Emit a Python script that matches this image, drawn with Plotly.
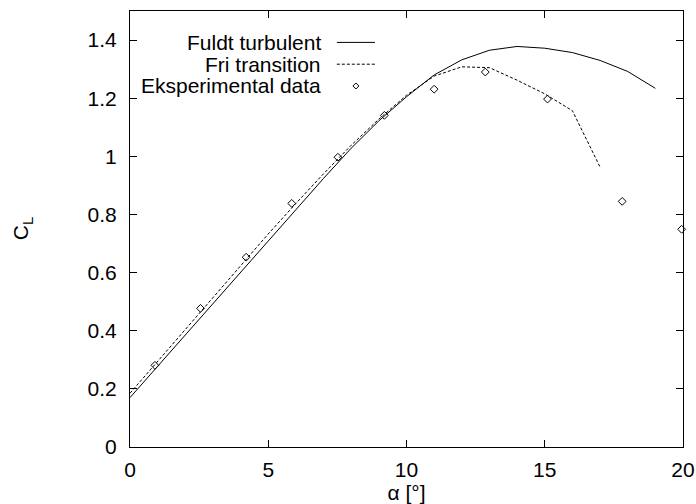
import plotly.graph_objects as go

# ---- data ----
alpha_turb = [0, 1, 2, 3, 4, 5, 6, 7, 8, 9, 10, 11, 12, 13, 14, 15, 16, 17, 18, 19]
cl_turb = [0.170, 0.278, 0.386, 0.494, 0.602, 0.710, 0.818, 0.924, 1.028, 1.122, 1.205,
           1.280, 1.332, 1.365, 1.378, 1.372, 1.357, 1.330, 1.292, 1.234]

alpha_fri = [0, 1, 2, 3, 4, 5, 6, 7, 8, 9, 10, 11, 12, 13, 14, 15, 16, 17]
cl_fri = [0.185, 0.295, 0.405, 0.515, 0.625, 0.733, 0.838, 0.940, 1.038, 1.128, 1.210,
          1.276, 1.308, 1.305, 1.262, 1.215, 1.157, 0.963]

alpha_exp = [0.9, 2.55, 4.2, 5.85, 7.52, 9.2, 11.0, 12.85, 15.1, 17.8, 19.95]
cl_exp = [0.281, 0.477, 0.653, 0.838, 0.997, 1.141, 1.231, 1.290, 1.197, 0.845, 0.749]

legend_labels = ["Fuldt turbulent", "Fri transition", "Eksperimental data"]
x_ticks = [0, 5, 10, 15, 20]
y_ticks = [0, 0.2, 0.4, 0.6, 0.8, 1.0, 1.2, 1.4]
y_ticktext = ["0", "0.2", "0.4", "0.6", "0.8", "1", "1.2", "1.4"]

FONT = "Liberation Sans, Arial, Helvetica, sans-serif"

fig = go.Figure()
fig.add_trace(go.Scatter(x=alpha_turb, y=cl_turb, mode="lines",
                         line=dict(color="black", width=1), showlegend=False))
fig.add_trace(go.Scatter(x=alpha_fri, y=cl_fri, mode="lines",
                         line=dict(color="black", width=1, dash="3px,2px"), showlegend=False))
fig.add_trace(go.Scatter(x=alpha_exp, y=cl_exp, mode="markers", cliponaxis=False,
                         marker=dict(symbol="diamond-open", size=6, color="black",
                                     line=dict(width=1, color="black")),
                         showlegend=False))

# manual legend (text right-aligned, sample to the right)
rows_y = [0.928, 0.878, 0.828]
text_x = 0.349
s0, s1 = 0.374, 0.443
for i, lab in enumerate(legend_labels):
    fig.add_annotation(x=text_x, y=rows_y[i], xref="paper", yref="paper", text=lab,
                       showarrow=False, xanchor="right", yanchor="middle",
                       font=dict(family=FONT, size=21, color="black"))
fig.add_shape(type="line", xref="paper", yref="paper", x0=s0, x1=s1, y0=rows_y[0], y1=rows_y[0],
              line=dict(color="black", width=1))
fig.add_shape(type="line", xref="paper", yref="paper", x0=s0, x1=s1, y0=rows_y[1], y1=rows_y[1],
              line=dict(color="black", width=1, dash="3px,2px"))
fig.add_shape(type="path", xref="paper", yref="paper", xsizemode="pixel", ysizemode="pixel",
              xanchor=(s0 + s1) / 2, yanchor=rows_y[2],
              path="M 0 3 L 3 0 L 0 -3 L -3 0 Z", line=dict(color="black", width=1))

# y-axis title, rotated (reads bottom to top)
fig.add_annotation(x=-0.195, y=0.5, xref="paper", yref="paper", text="C<sub>L</sub>",
                   showarrow=False, textangle=-90, xanchor="center", yanchor="middle",
                   font=dict(family=FONT, size=21, color="black"))

axis_common = dict(showline=True, linecolor="black", linewidth=1, mirror="ticks",
                   ticks="inside", ticklen=7, tickcolor="black", tickwidth=1,
                   showgrid=False, zeroline=False,
                   tickfont=dict(family=FONT, size=21, color="black"))

fig.update_xaxes(range=[0, 20], tickvals=x_ticks, ticktext=[str(v) for v in x_ticks],
                 title=dict(text="α [°]", font=dict(family=FONT, size=21, color="black"), standoff=4),
                 ticklabelstandoff=4, **axis_common)
fig.update_yaxes(range=[0, 1.5], tickvals=y_ticks, ticktext=y_ticktext,
                 ticklabelstandoff=8, **axis_common)

fig.update_layout(width=696, height=504, margin=dict(l=130, r=13, t=11, b=57, autoexpand=False),
                  plot_bgcolor="white", paper_bgcolor="white",
                  font=dict(family=FONT, size=21, color="black"))

fig.write_html("out.html")
